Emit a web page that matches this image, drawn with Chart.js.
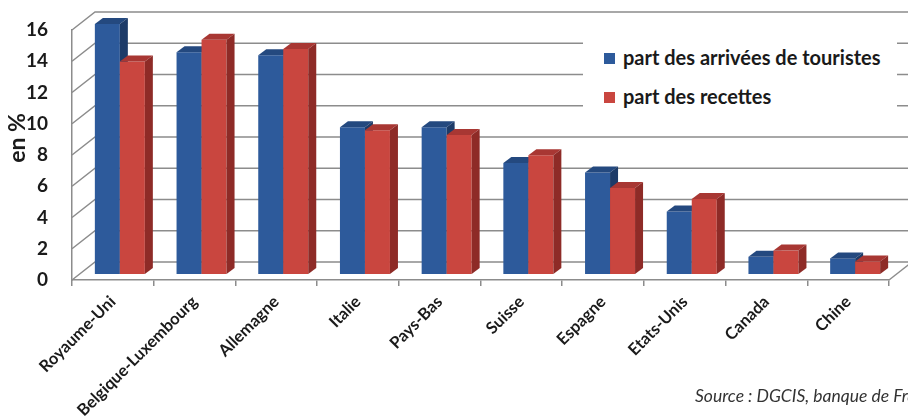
<!DOCTYPE html>
<html>
<head>
<meta charset="utf-8">
<script src="https://cdn.jsdelivr.net/npm/chart.js@4"></script>
<style>
  html, body { margin: 0; padding: 0; background: #fff; overflow: hidden; }
  #wrap { position: relative; width: 908px; height: 416px; overflow: hidden; }
  #legend {
    position: absolute; left: 583px; top: 30px; width: 314px; height: 90px;
    background: #fff; font: bold 20px Lato, sans-serif; color: #1a1a1a;
  }
  #legend .item { position: absolute; left: 21px; white-space: nowrap; line-height: 24px; }
  #legend .box { display: inline-block; width: 11px; height: 11px; margin-right: 8px; vertical-align: 1px; }
  #ytitle {
    position: absolute; left: -9px; top: 124px; width: 50px; text-align: center;
    transform: rotate(-90deg); font: bold 23px Lato, sans-serif; color: #1a1a1a; white-space: nowrap;
  }
  #source {
    position: absolute; left: 695px; top: 385px; white-space: nowrap;
    font: italic 17.5px Lato, sans-serif; color: #333;
  }
</style>
</head>
<body>
<div id="wrap">
  <canvas id="chart" width="908" height="416"></canvas>
  <div id="legend"></div>
  <div id="ytitle">en %</div>
  <div id="source">Source : DGCIS, banque de France</div>
</div>
<script>
// categories and values (in %)
const countries = ['Royaume-Uni', 'Belgique-Luxembourg', 'Allemagne', 'Italie', 'Pays-Bas',
                   'Suisse', 'Espagne', 'Etats-Unis', 'Canada', 'Chine'];
const arrivals = [16.0, 14.2, 14.0, 9.4, 9.4, 7.1, 6.5, 4.0, 1.1, 1.0];
const receipts = [13.6, 15.0, 14.4, 9.2, 8.9, 7.6, 5.5, 4.8, 1.5, 0.8];
const seriesNames = ['part des arrivées de touristes', 'part des recettes'];
const yTicks = [0, 2, 4, 6, 8, 10, 12, 14, 16];

// colours: front, side, top
const palette = [
    { front: '#2d5a9b', side: '#1d3b68', top: '#24497f' },
    { front: '#c9463f', side: '#8e2b27', top: '#a83733' }
];

// 3D look
const WALL_DX = 23, WALL_DY = 18;   // back wall offset
const BAR_DX = 7, BAR_DY = 6;       // bars sit a third of the way back
const SIDE_X = 8, SIDE_Y = 6;       // depth of each bar
const lineColor = '#8c8c8c';

const depth3d = {
    id: 'depth3d',
    beforeDraw(chart) {
        const ctx = chart.ctx;
        const area = chart.chartArea;
        const y = chart.scales.y;
        ctx.save();
        ctx.strokeStyle = lineColor;
        ctx.lineWidth = 1.5;
        // back wall grid + left wall diagonals
        y.ticks.forEach(t => {
            const py = y.getPixelForValue(t.value);
            ctx.beginPath();
            ctx.moveTo(area.left, py);
            ctx.lineTo(area.left + WALL_DX, py - WALL_DY);
            ctx.lineTo(chart.width, py - WALL_DY);
            ctx.stroke();
        });
        // right edge of the floor
        ctx.beginPath();
        ctx.moveTo(area.right, area.bottom);
        ctx.lineTo(area.right + WALL_DX, area.bottom - WALL_DY);
        ctx.stroke();
        ctx.restore();
    },
    beforeDatasetsDraw(chart) {
        const ctx = chart.ctx;
        ctx.save();
        ctx.translate(BAR_DX, -BAR_DY);
        chart.data.datasets.forEach((ds, i) => {
            const meta = chart.getDatasetMeta(i);
            const col = palette[i];
            meta.data.forEach(bar => {
                bar.draw(ctx);
                const { x, y, base, width } = bar.getProps(['x', 'y', 'base', 'width'], true);
                const l = x - width / 2, r = x + width / 2;
                ctx.fillStyle = col.top;
                ctx.beginPath();
                ctx.moveTo(l, y);
                ctx.lineTo(r, y);
                ctx.lineTo(r + SIDE_X, y - SIDE_Y);
                ctx.lineTo(l + SIDE_X, y - SIDE_Y);
                ctx.closePath();
                ctx.fill();
                ctx.fillStyle = col.side;
                ctx.beginPath();
                ctx.moveTo(r, y);
                ctx.lineTo(r + SIDE_X, y - SIDE_Y);
                ctx.lineTo(r + SIDE_X, base - SIDE_Y);
                ctx.lineTo(r, base);
                ctx.closePath();
                ctx.fill();
            });
        });
        ctx.restore();
        return false;
    }
};

const ctx = document.getElementById('chart').getContext('2d');
const chart = new Chart(ctx, {
    type: 'bar',
    data: {
        labels: countries,
        datasets: [
            { label: seriesNames[0], data: arrivals, backgroundColor: palette[0].front },
            { label: seriesNames[1], data: receipts, backgroundColor: palette[1].front }
        ]
    },
    options: {
        responsive: false,
        animation: false,
        layout: { padding: { top: 30, right: 19, left: 0, bottom: 0 } },
        categoryPercentage: 0.612,
        barPercentage: 1.0,
        plugins: {
            legend: { display: false },
            tooltip: { enabled: false }
        },
        scales: {
            x: {
                grid: { display: true, drawOnChartArea: false, drawTicks: true, tickLength: 6, color: lineColor, lineWidth: 1.5 },
                border: { display: true, color: lineColor, width: 1.5 },
                ticks: {
                    autoSkip: false, minRotation: 45, maxRotation: 45, padding: 6,
                    color: '#1a1a1a', font: { family: 'Lato', weight: 'bold', size: 16.5 }
                },
                afterFit(scale) { scale.height = 136; }
            },
            y: {
                min: 0, max: 16,
                afterBuildTicks(axis) { axis.ticks = yTicks.map(v => ({ value: v })); },
                grid: { display: false },
                border: { display: true, color: lineColor, width: 1.5 },
                ticks: {
                    padding: 16, color: '#1a1a1a',
                    font: { family: 'Lato', weight: 'bold', size: 19 }
                },
                afterFit(scale) { scale.width = 72; }
            }
        }
    },
    plugins: [depth3d]
});

// HTML legend built from the datasets
const legendEl = document.getElementById('legend');
chart.data.datasets.forEach((ds, i) => {
    const item = document.createElement('div');
    item.className = 'item';
    item.style.top = (i === 0 ? 15 : 54) + 'px';
    item.innerHTML = '<span class="box" style="background:' + palette[i].front + '"></span>' + ds.label;
    legendEl.appendChild(item);
});
</script>
</body>
</html>
